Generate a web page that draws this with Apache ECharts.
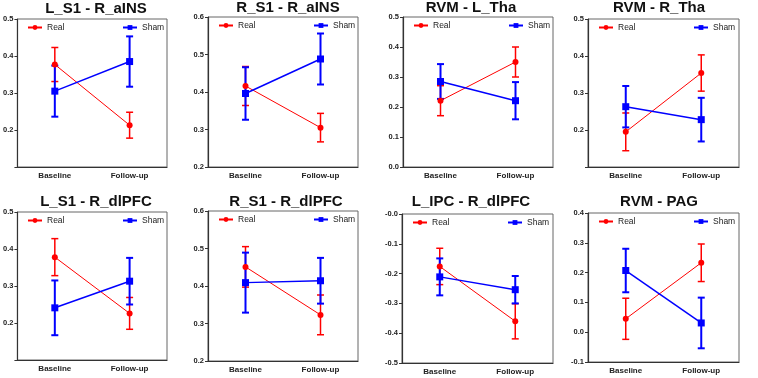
<!DOCTYPE html>
<html>
<head>
<meta charset="utf-8">
<script src="https://cdn.jsdelivr.net/npm/echarts@6/dist/echarts.min.js"></script>
<style>
  html, body { margin: 0; padding: 0; background: #fff; }
  #chart { width: 758px; height: 378px; }
</style>
</head>
<body>
<div id="chart"></div>
<script>
// values, one entry per panel
const categories = ['Baseline', 'Follow-up']
const titles = [
  'L_S1 - R_aINS', 'R_S1 - R_aINS', 'RVM - L_Tha', 'RVM - R_Tha',
  'L_S1 - R_dlPFC', 'R_S1 - R_dlPFC', 'L_IPC - R_dlPFC', 'RVM - PAG',
]
const realMean = [
  [0.377, 0.213], [0.416, 0.305], [0.221, 0.350], [0.195, 0.354],
  [0.378, 0.226], [0.451, 0.323], [-0.176, -0.360], [0.045, 0.233],
]
const realErr = [
  [0.046, 0.035], [0.052, 0.038], [0.050, 0.050], [0.051, 0.049],
  [0.050, 0.043], [0.054, 0.053], [0.061, 0.059], [0.069, 0.063],
]
const shamMean = [
  [0.305, 0.385], [0.396, 0.488], [0.285, 0.221], [0.263, 0.228],
  [0.241, 0.313], [0.409, 0.414], [-0.211, -0.254], [0.207, 0.031],
]
const shamErr = [
  [0.069, 0.068], [0.070, 0.068], [0.058, 0.062], [0.056, 0.059],
  [0.074, 0.063], [0.080, 0.061], [0.062, 0.046], [0.073, 0.085],
]
const yMin = [0.1, 0.2, 0.0, 0.1, 0.1, 0.2, -0.5, -0.1]
const yMax = [0.5, 0.6, 0.5, 0.5, 0.5, 0.6, 0.0, 0.4]
const yTickLabels = [
  ['', '0.2', '0.3', '0.4', '0.5'],
  ['0.2', '0.3', '0.4', '0.5', '0.6'],
  ['0.0', '0.1', '0.2', '0.3', '0.4', '0.5'],
  ['', '0.2', '0.3', '0.4', '0.5'],
  ['', '0.2', '0.3', '0.4', '0.5'],
  ['0.2', '0.3', '0.4', '0.5', '0.6'],
  ['-0.5', '-0.4', '-0.3', '-0.2', '-0.1', '-0.0'],
  ['-0.1', '0.0', '0.1', '0.2', '0.3', '0.4'],
]

// panel boxes [left, top, width, height] and title centres [x, top]
const boxes = [
  [17, 19, 150, 148], [208, 17, 150, 150], [403, 17, 150, 150], [588, 19, 151, 148],
  [17, 212, 150, 148], [208, 211, 150, 150], [402, 214, 151, 149], [588, 213, 151, 149],
]
const titlePos = [
  [96, 1], [288, 0], [471, 0], [659, 0],
  [96, 194], [286, 194], [471, 194], [659, 194],
]

const RED = '#ff0000'
const BLUE = '#0000ff'
const FONT = '"Liberation Sans", Arial, sans-serif'

function errorBar(color, width) {
  return function (params, api) {
    const x = api.value(0)
    const top = api.coord([x, api.value(2)])
    const bot = api.coord([x, api.value(1)])
    const cap = 3.5
    const style = { stroke: color, lineWidth: width, fill: null }
    return {
      type: 'group',
      children: [
        { type: 'line', shape: { x1: top[0], y1: top[1], x2: bot[0], y2: bot[1] }, style },
        { type: 'line', shape: { x1: top[0] - cap, y1: top[1], x2: top[0] + cap, y2: top[1] }, style },
        { type: 'line', shape: { x1: bot[0] - cap, y1: bot[1], x2: bot[0] + cap, y2: bot[1] }, style },
      ],
    }
  }
}

const grid = [], xAxis = [], yAxis = [], series = [], title = [], legend = []

boxes.forEach(([l, t, w, h], i) => {
  grid.push({ left: l, top: t, width: w, height: h, show: true, borderColor: '#666', borderWidth: 1 })
  title.push({
    text: titles[i], left: titlePos[i][0], top: titlePos[i][1], textAlign: 'center', padding: 0,
    textStyle: { fontFamily: FONT, fontSize: 15, fontWeight: 'bold', color: '#111' },
  })
  legend.push({
    data: ['Real'], left: l + 10, top: t + 4, padding: 0, itemWidth: 14, itemHeight: 6,
    selectedMode: false, textStyle: { fontFamily: FONT, fontSize: 8.5, color: '#222' },
  })
  legend.push({
    data: ['Sham'], left: l + 105, top: t + 4, padding: 0, itemWidth: 14, itemHeight: 6,
    selectedMode: false, textStyle: { fontFamily: FONT, fontSize: 8.5, color: '#222' },
  })
  xAxis.push({
    type: 'category', gridIndex: i, data: categories, boundaryGap: true,
    axisLine: { onZero: false, lineStyle: { color: '#333', width: 1.2 } },
    axisTick: { alignWithLabel: true, length: 3, lineStyle: { color: '#333' } },
    axisLabel: { margin: 5, fontFamily: FONT, fontSize: 8, fontWeight: 'bold', color: '#222' },
  })
  const mn = yMin[i], labels = yTickLabels[i]
  yAxis.push({
    type: 'value', gridIndex: i, min: mn, max: yMax[i], interval: 0.1,
    splitLine: { show: false },
    axisLine: { show: true, onZero: false, lineStyle: { color: '#333', width: 1.2 } },
    axisTick: { show: true, length: 3, lineStyle: { color: '#333' } },
    axisLabel: {
      margin: 4, fontFamily: FONT, fontSize: 7.5, fontWeight: 'bold', color: '#222',
      formatter: (v) => labels[Math.round((v - mn) / 0.1)] || '',
    },
  })
  series.push({
    type: 'custom', name: 'realErr', xAxisIndex: i, yAxisIndex: i, z: 2,
    renderItem: errorBar(RED, 1.5), encode: { x: 0, y: [1, 2] },
    data: realMean[i].map((m, k) => [k, m - realErr[i][k], m + realErr[i][k]]),
  })
  series.push({
    type: 'custom', name: 'shamErr', xAxisIndex: i, yAxisIndex: i, z: 2,
    renderItem: errorBar(BLUE, 2), encode: { x: 0, y: [1, 2] },
    data: shamMean[i].map((m, k) => [k, m - shamErr[i][k], m + shamErr[i][k]]),
  })
  series.push({
    type: 'line', name: 'Real', xAxisIndex: i, yAxisIndex: i, z: 3,
    data: realMean[i], symbol: 'circle', symbolSize: 6, animation: false,
    itemStyle: { color: RED }, lineStyle: { color: RED, width: 1 },
  })
  series.push({
    type: 'line', name: 'Sham', xAxisIndex: i, yAxisIndex: i, z: 3,
    data: shamMean[i], symbol: 'rect', symbolSize: 7, animation: false,
    itemStyle: { color: BLUE }, lineStyle: { color: BLUE, width: 1.5 },
  })
})

const chart = echarts.init(document.getElementById('chart'))
chart.setOption({ animation: false, title, legend, grid, xAxis, yAxis, series })
</script>
</body>
</html>
